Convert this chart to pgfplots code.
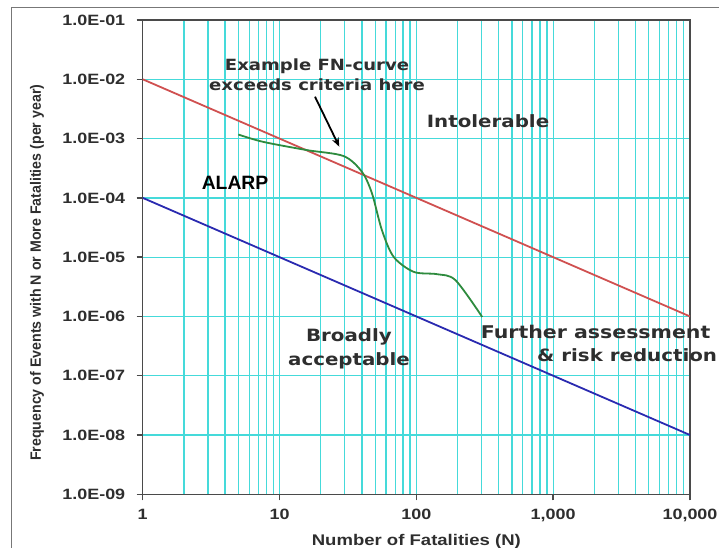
\documentclass[border=0pt]{standalone}
\usepackage{fontspec}
\setmainfont{Liberation Sans}
\newfontfamily\tickfont[FakeStretch=1.2]{Liberation Sans}
\newfontfamily\annfont[FakeStretch=1.17]{DejaVu Sans}
\newfontfamily\ylabfont[FakeStretch=0.95]{Liberation Sans}
\usepackage{pgfplots}
\pgfplotsset{compat=1.18}
\usetikzlibrary{arrows.meta}
\definecolor{GridCyan}{HTML}{45DADA}
\definecolor{AxisGray}{HTML}{4A4A4A}
\definecolor{LimRed}{HTML}{D05050}
\definecolor{LimBlue}{HTML}{2A2AB0}
\definecolor{FNGreen}{HTML}{2E8B3E}
\definecolor{TxtGray}{HTML}{2E2E2E}

\begin{document}
\begin{tikzpicture}
\useasboundingbox (0,0) rectangle (719bp,548bp);
% outer frame (cropped on the right and bottom)
\draw[AxisGray!75, line width=1.5bp] (11.5bp,-5bp) |- (730bp,540.5bp);
\begin{axis}[
  at={(142.7bp,53.7bp)}, anchor=south west,
  scale only axis, width=547.3bp, height=474.3bp,
  xmode=log, ymode=log,
  xmin=1, xmax=10000, ymin=1e-9, ymax=1e-1,
  clip mode=individual,
  axis line style={AxisGray, line width=1.5bp},
  xtick={1,10,100,1000,10000},
  xticklabels={1,10,100,{1,000},{10,000}},
  minor xtick={2,3,4,5,6,7,8,9,20,30,40,50,60,70,80,90,200,300,400,500,600,700,800,900,2000,3000,4000,5000,6000,7000,8000,9000},
  ytick={1e-9,1e-8,1e-7,1e-6,1e-5,1e-4,1e-3,1e-2,1e-1},
  yticklabels={1.0E-09,1.0E-08,1.0E-07,1.0E-06,1.0E-05,1.0E-04,1.0E-03,1.0E-02,1.0E-01},
  xmajorgrids, xminorgrids, ymajorgrids,
  major grid style={GridCyan, line width=1.3bp},
  minor grid style={GridCyan, line width=1.3bp},
  tick align=outside, tick pos=left,
  major tick length=6bp, minor tick length=0pt,
  tick style={AxisGray, line width=1.5bp},
  ticklabel style={font=\tickfont\bfseries\fontsize{15}{18}\selectfont, text=TxtGray},
  yticklabel style={xshift=-8bp},
  xticklabel style={yshift=-5bp},
  xlabel={Number of Fatalities (N)},
  ylabel={Frequency of Events with N or More Fatalities (per year)},
  xlabel style={font=\tickfont\bfseries\fontsize{15.5}{18}\selectfont, text=TxtGray,
    at={(axis description cs:0.5,-0.1)}, anchor=center},
  ylabel style={font=\ylabfont\bfseries\fontsize{15}{18}\selectfont, text=TxtGray,
    at={(axis description cs:-0.193,0.467)}, anchor=center},
]
\addplot[LimRed, line width=1.8bp] coordinates {(1,1e-2) (10000,1e-6)};
\addplot[LimBlue, line width=1.8bp] coordinates {(1,1e-4) (10000,1e-8)};
\addplot[FNGreen, line width=1.8bp, smooth, tension=0.5] coordinates {
  (5.0,1.17e-3) (7.6,8.8e-4) (15.8,6.4e-4) (29.4,5.07e-4) (40,2.75e-4)
  (47.4,1.19e-4) (56,2.86e-5) (68.3,1.01e-5) (95.6,5.65e-6) (141.7,5.16e-6)
  (193,4.1e-6) (303,9.8e-7)};

\draw[black, line width=1.8bp, -{Stealth[length=9bp,width=7bp]}]
  (axis cs:18.17,5.08e-3) -- (axis cs:27.35,7.29e-4);

\node[font=\annfont\bfseries\fontsize{15.5}{20}\selectfont, text=TxtGray, align=center]
  at (axis cs:18.8,1.18e-2) {Example FN-curve\\exceeds criteria here};
\node[font=\annfont\bfseries\fontsize{17}{24}\selectfont, text=TxtGray]
  at (axis cs:334,1.93e-3) {Intolerable};
\node[font=\bfseries\fontsize{19.4}{22}\selectfont, text=black]
  at (axis cs:4.73,1.76e-4) {ALARP};
\node[font=\annfont\bfseries\fontsize{17}{24}\selectfont, text=TxtGray, align=center]
  at (axis cs:32.2,2.83e-7) {Broadly\\acceptable};
\node[font=\annfont\bfseries\fontsize{17.6}{24}\selectfont, text=TxtGray, anchor=west, inner sep=0pt]
  at (axis cs:295,5.47e-7) {Further assessment};
\node[font=\annfont\bfseries\fontsize{17}{24}\selectfont, text=TxtGray, anchor=west, inner sep=0pt]
  at (axis cs:762,2.24e-7) {\& risk reduction};
\end{axis}
\end{tikzpicture}
\end{document}
